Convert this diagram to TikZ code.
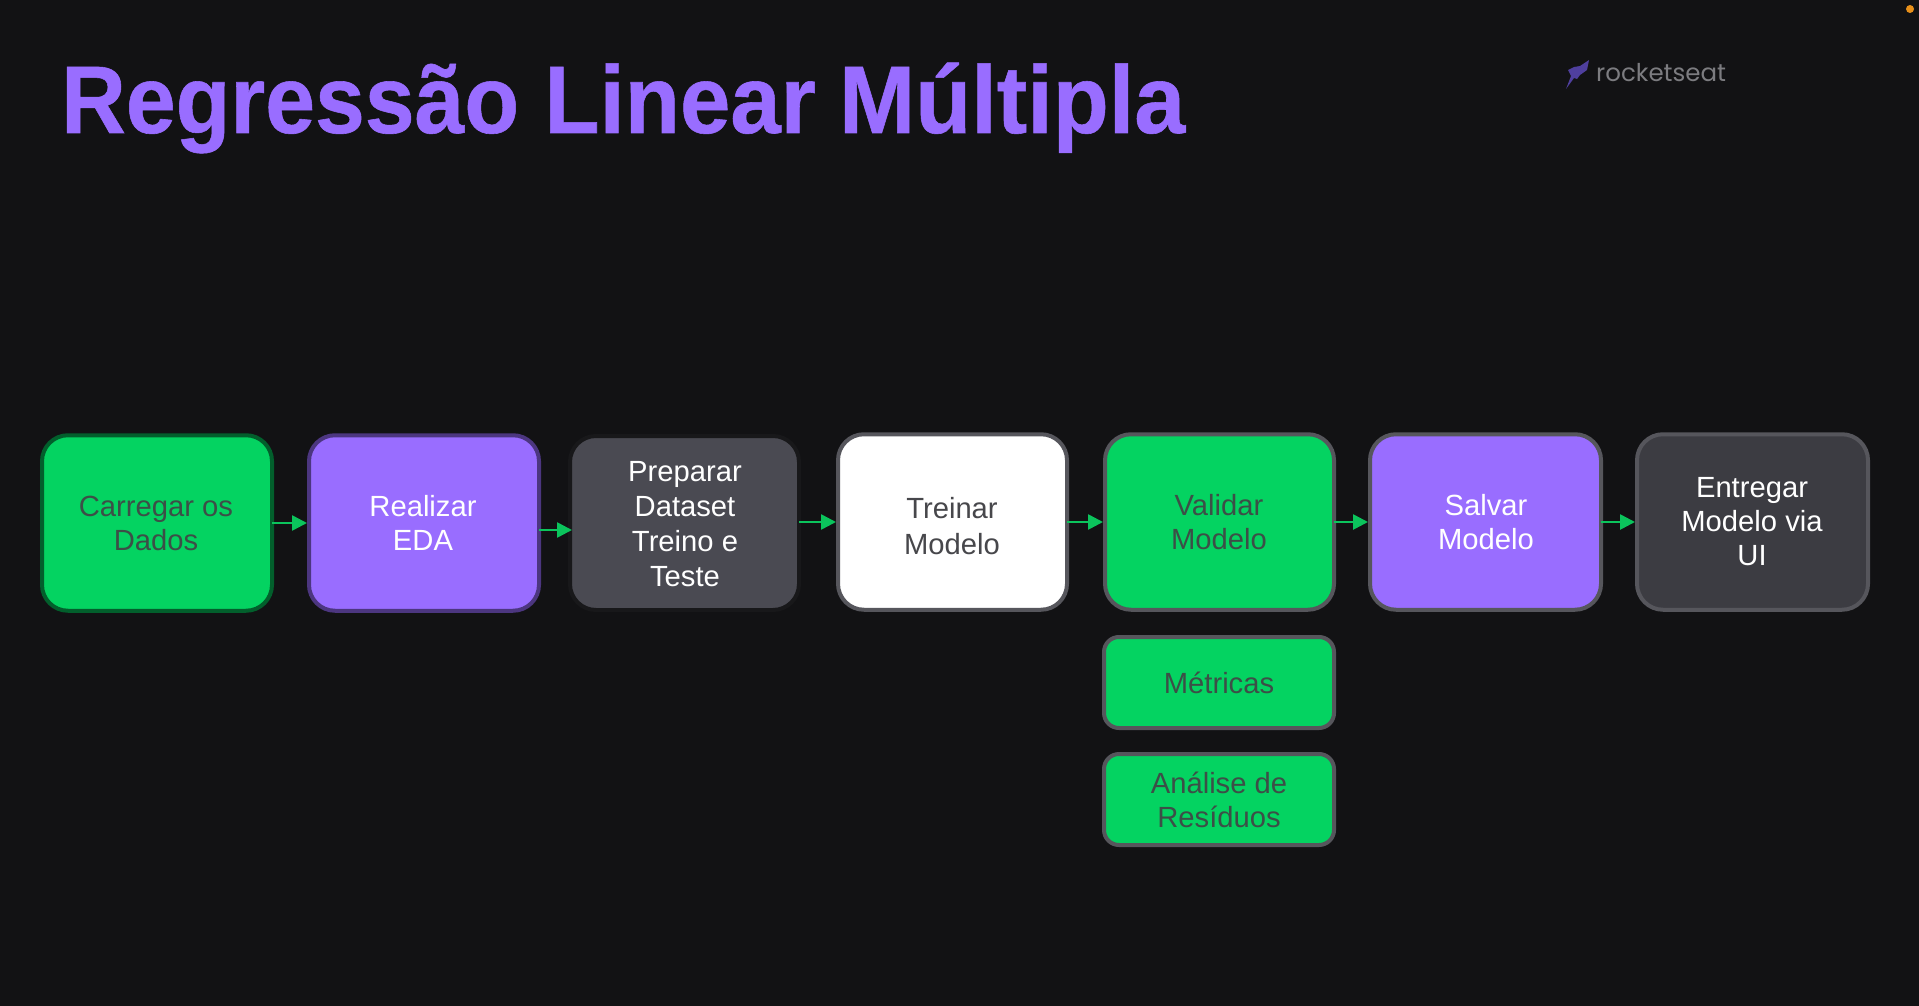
\documentclass[tikz,border=0pt]{standalone}
\usepackage{fontspec}
\setmainfont{Liberation Sans}
\newfontfamily\logofont{Poppins}
\newfontfamily\titlefont[BoldFeatures={FakeBold=0.6}]{Liberation Sans}
\usetikzlibrary{arrows.meta}
\definecolor{bgc}{HTML}{121214}
\definecolor{grn}{HTML}{04D361}
\definecolor{pur}{HTML}{996DFF}
\definecolor{slate}{HTML}{4A4A52}
\definecolor{coal}{HTML}{3C3C42}
\definecolor{edgegrey}{HTML}{56565C}
\definecolor{inkgrey}{HTML}{3C4F47}
\definecolor{inkdark}{HTML}{47474B}
\definecolor{arrowgrn}{HTML}{0BC45C}
\definecolor{logogrey}{HTML}{7C7C80}
\definecolor{logopur}{HTML}{4F3F9E}
\definecolor{dotorange}{HTML}{E8901A}
\tikzset{
  x=1pt,y=-1pt,
  bigbox/.style={rectangle,rounded corners=26pt,line width=4pt,inner sep=0pt,minimum height=175.5pt},
  smallbox/.style={rectangle,rounded corners=15pt,line width=4pt,inner sep=0pt,draw=edgegrey,fill=grn,minimum width=230pt,minimum height=91pt},
  flow/.style={draw=arrowgrn,line width=2.6pt,shorten <=-2pt,-{Triangle[length=15pt,width=15pt]}},
  txt/.style={align=center,inner sep=0pt,font=\fontsize{29.2}{34}\selectfont},
  txtwide/.style={align=center,inner sep=0pt,font=\fontsize{29.2}{36}\selectfont},
  txtmid/.style={align=center,inner sep=0pt,font=\fontsize{29.2}{35}\selectfont}
}
\begin{document}
\begin{tikzpicture}
\useasboundingbox (0,0) rectangle (1919,1006);
\fill[bgc] (0,0) rectangle (1919,1006);
% recording dot
\fill[dotorange] (1910,9) circle (4);
% title
\node[anchor=base west,inner sep=0pt,text=pur,font=\titlefont\fontsize{96}{100}\selectfont\bfseries] (title) at (61,133) {\scalebox{0.933}[1]{Regressão}\hspace*{25pt}\scalebox{0.943}[1]{Linear}\hspace*{23pt}\scalebox{0.955}[1]{Múltipla}};
% logo
\fill[logopur] (1589,60) -- (1587,70) -- (1580,75) -- (1577,79) -- (1574,78) -- (1566,89) -- (1571,76) -- (1568,70) -- (1574,67) -- (1580,66) -- cycle;
\node[anchor=base west,inner sep=0pt,text=logogrey,font=\logofont\fontsize{24.5}{30}\selectfont] (logo) at (1596,82) {rocketseat};
% boxes
\node[bigbox,minimum width=230pt,draw=grn!45!black,fill=grn] (b1) at (157,523) {};
\node[bigbox,minimum width=230pt,draw=pur!50!black,fill=pur] (b2) at (424,523) {};
\node[bigbox,minimum width=229pt,minimum height=174pt,draw=bgc!90!slate,fill=slate] (b3) at (684.5,523) {};
\node[bigbox,minimum width=229pt,draw=edgegrey,fill=white] (b4) at (952.5,522) {};
\node[bigbox,minimum width=229pt,draw=edgegrey,fill=grn] (b5) at (1219.5,522) {};
\node[bigbox,minimum width=231pt,draw=edgegrey,fill=pur] (b6) at (1485.5,522) {};
\node[bigbox,minimum width=231pt,draw=edgegrey,fill=coal] (b7) at (1752.5,522) {};
\node[smallbox] (s1) at (1219,682.5) {};
\node[smallbox] (s2) at (1219,799.5) {};
% labels
\node[txt,text=inkgrey] (t1) at (156,523.5) {Carregar os\\Dados};
\node[txt,text=white] (t2) at (423,523) {Realizar\\EDA};
\node[txtmid,text=white] (t3) at (685,524) {Preparar\\Dataset\\Treino e\\Teste};
\node[txtwide,text=inkdark] (t4) at (952,526.5) {Treinar\\Modelo};
\node[txt,text=inkgrey] (t5) at (1219,522.5) {Validar\\Modelo};
\node[txt,text=white] (t6) at (1486,522.5) {Salvar\\Modelo};
\node[txt,text=white] (t7) at (1752,522) {Entregar\\Modelo via\\UI};
\node[txt,text=inkgrey] (t8) at (1219,683) {Métricas};
\node[txt,text=inkgrey] (t9) at (1219,800) {Análise de\\Resíduos};
% connectors
\draw[flow] (b1.east) -- (b2.west);
\draw[flow,shorten >=-4pt] ([yshift=-7pt]b2.east) -- ([yshift=-7pt]b3.west);
\draw[flow] ([yshift=1pt]b3.east) -- (b4.west);
\draw[flow] (b4.east) -- (b5.west);
\draw[flow] (b5.east) -- (b6.west);
\draw[flow] (b6.east) -- (b7.west);
\end{tikzpicture}
\end{document}
